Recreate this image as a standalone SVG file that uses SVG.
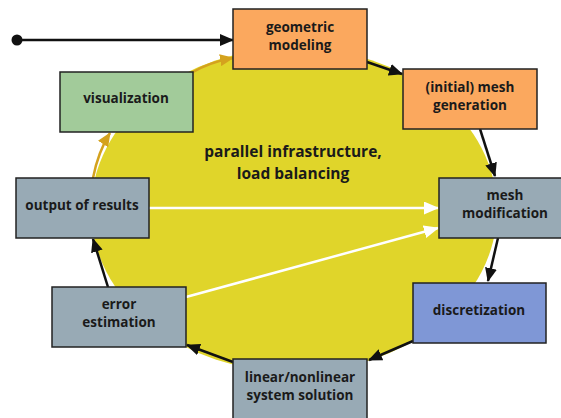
<svg xmlns="http://www.w3.org/2000/svg" width="561" height="418" viewBox="0 0 561 418">
<style>
.box{stroke:#222;stroke-width:1.5}
.lbl{font-family:"Open Sans","Liberation Sans",sans-serif;font-weight:bold;font-size:13.5px;fill:#1a1a1a;text-anchor:middle}
.big{font-family:"Open Sans","Liberation Sans",sans-serif;font-weight:bold;font-size:15.5px;fill:#1a1a1a;text-anchor:middle}
.blk{stroke:#111;stroke-width:2.5;fill:none;marker-end:url(#ab)}
.gold{stroke:#d4a21e;stroke-width:2.5;fill:none;marker-end:url(#ag)}
.wht{stroke:#fff;stroke-width:2.5;fill:none;marker-end:url(#aw)}
</style>
<defs>
<marker id="ab" markerWidth="14" markerHeight="12" refX="13" refY="6" orient="auto" markerUnits="userSpaceOnUse"><path d="M0,0 L14,6 L0,12 Z" fill="#111"/></marker>
<marker id="ag" markerWidth="14" markerHeight="12" refX="13" refY="6" orient="auto" markerUnits="userSpaceOnUse"><path d="M0,0 L14,6 L0,12 Z" fill="#d4a21e"/></marker>
<marker id="aw" markerWidth="15" markerHeight="13" refX="14" refY="6.5" orient="auto" markerUnits="userSpaceOnUse"><path d="M0,0 L15,6.5 L0,13 Z" fill="#fff"/></marker>
</defs>
<rect width="561" height="418" fill="#fff"/>
<ellipse id="infrastructure" cx="294" cy="210" rx="203" ry="162" fill="#e0d52a"/>
<text class="big" x="293" y="157">parallel infrastructure,</text>
<text class="big" x="293" y="179">load balancing</text>
<g id="connectors">
<circle cx="17" cy="40" r="5.5" fill="#111"/>
<path class="blk" d="M17,40 L233,40"/>
<path class="blk" d="M367,62 L402,74"/>
<path class="blk" d="M480,129 L495,176"/>
<path class="blk" d="M498,238 L488,281"/>
<path class="blk" d="M413,341 L369,360"/>
<path class="blk" d="M233,362 L187,345"/>
<path class="blk" d="M108,287 L93,239"/>
<path class="gold" d="M93,178 Q98,152 110,133"/>
<path class="gold" d="M193,72 Q210,62 233,58"/>
<path class="wht" d="M149,208 L438,208"/>
<path class="wht" d="M186,297 L438,228"/>
</g>
<g id="geometric-modeling"><rect class="box" x="233" y="9" width="134" height="60" fill="#fba85e"/><text class="lbl" x="300" y="32">geometric</text><text class="lbl" x="300" y="50">modeling</text></g>
<g id="mesh-generation"><rect class="box" x="403" y="69" width="134" height="60" fill="#fba85e"/><text class="lbl" x="470" y="92">(initial) mesh</text><text class="lbl" x="470" y="110">generation</text></g>
<g id="mesh-modification"><rect class="box" x="439" y="178" width="134" height="60" fill="#98aab5"/><text class="lbl" x="505" y="200">mesh</text><text class="lbl" x="505" y="218">modification</text></g>
<g id="discretization"><rect class="box" x="413" y="283" width="133" height="60" fill="#7f97d6"/><text class="lbl" x="479" y="315">discretization</text></g>
<g id="system-solution"><rect class="box" x="233" y="359" width="134" height="62" fill="#98aab5"/><text class="lbl" x="300" y="382">linear/nonlinear</text><text class="lbl" x="300" y="400">system solution</text></g>
<g id="error-estimation"><rect class="box" x="52" y="287" width="134" height="60" fill="#98aab5"/><text class="lbl" x="119" y="309">error</text><text class="lbl" x="119" y="327">estimation</text></g>
<g id="output-of-results"><rect class="box" x="16" y="178" width="133" height="60" fill="#98aab5"/><text class="lbl" x="82" y="210">output of results</text></g>
<g id="visualization"><rect class="box" x="60" y="72" width="133" height="60" fill="#a2cb9a"/><text class="lbl" x="126" y="103">visualization</text></g>
</svg>
